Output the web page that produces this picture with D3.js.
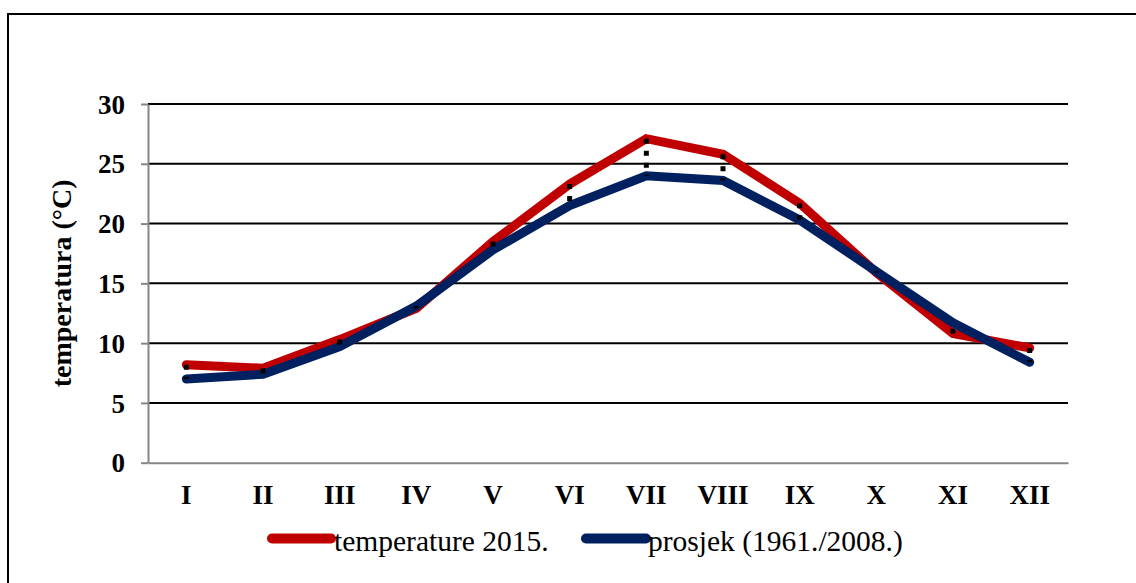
<!DOCTYPE html>
<html>
<head>
<meta charset="utf-8">
<script src="https://cdn.jsdelivr.net/npm/d3@7"></script>
<style>
  html, body { margin: 0; padding: 0; background: #fff; }
  svg { display: block; }
</style>
</head>
<body>
<svg id="chart" width="1136" height="583"></svg>
<script>
// Monthly mean air temperature: 2015 vs. long-term average
const months = ["I", "II", "III", "IV", "V", "VI", "VII", "VIII", "IX", "X", "XI", "XII"];
const temp2015 = [8.2, 7.9, 10.3, 12.9, 18.5, 23.3, 27.1, 25.8, 21.7, 15.9, 10.8, 9.6];
const average = [7.0, 7.4, 9.7, 13.1, 17.8, 21.5, 24.0, 23.6, 20.3, 16.0, 11.7, 8.4];
const yTicks = [0, 5, 10, 15, 20, 25, 30];
const seriesNames = ["temperature 2015.", "prosjek (1961./2008.)"];
const seriesColors = ["#C00000", "#002060"];

const FONT = "'Liberation Serif', 'Times New Roman', Times, serif";

const svg = d3.select("#chart");

// outer frame
svg.append("rect")
  .attr("x", 8).attr("y", 14)
  .attr("width", 1200).attr("height", 700)
  .attr("fill", "none").attr("stroke", "#000").attr("stroke-width", 2);

const plot = { left: 148, right: 1068, top: 104, bottom: 462.7 };

const x = d3.scaleBand().domain(months).range([plot.left, plot.right]);
const y = d3.scaleLinear().domain([0, 30]).range([plot.bottom, plot.top]);
const cx = m => x(m) + x.bandwidth() / 2;

// horizontal gridlines
svg.append("g")
  .selectAll("line")
  .data(yTicks.filter(v => v > 0))
  .join("line")
  .attr("x1", plot.left).attr("x2", plot.right)
  .attr("y1", d => y(d)).attr("y2", d => y(d))
  .attr("stroke", "#000").attr("stroke-width", 2);

// y axis with tick labels
const yAxis = svg.append("g")
  .attr("transform", `translate(${plot.left},0)`)
  .call(d3.axisLeft(y).tickValues(yTicks).tickSize(7).tickSizeOuter(0).tickPadding(16));
yAxis.select(".domain").attr("stroke", "#868686").attr("stroke-width", 2);
yAxis.selectAll(".tick line").attr("stroke", "#868686").attr("stroke-width", 2);
yAxis.selectAll(".tick text")
  .style("font-family", FONT)
  .style("font-size", "27px").style("font-weight", "bold").attr("fill", "#000")
  .attr("dy", "0.34em");

// x axis (baseline and month labels)
const xAxis = svg.append("g")
  .attr("transform", `translate(0,${plot.bottom})`)
  .call(d3.axisBottom(x).tickSize(0).tickPadding(22));
xAxis.select(".domain").attr("stroke", "#868686").attr("stroke-width", 2);
xAxis.selectAll(".tick text")
  .style("font-family", FONT)
  .style("font-size", "27px").style("font-weight", "bold").attr("fill", "#000");

// y axis title
svg.append("text")
  .attr("transform", `translate(71,${(plot.top + plot.bottom) / 2}) rotate(-90)`)
  .attr("text-anchor", "middle")
  .style("font-family", FONT)
  .style("font-size", "28px").style("font-weight", "bold")
  .text("temperatura (°C)");

// series lines
const line = d3.line().x((d, i) => cx(months[i])).y(d => y(d));
[temp2015, average].forEach((vals, k) => {
  svg.append("path")
    .datum(vals)
    .attr("d", line)
    .attr("fill", "none")
    .attr("stroke", seriesColors[k])
    .attr("stroke-width", 9)
    .attr("stroke-linecap", "round")
    .attr("stroke-linejoin", "miter");
});

// high-low connectors between the two series
svg.append("g")
  .selectAll("line")
  .data(months)
  .join("line")
  .attr("x1", d => cx(d)).attr("x2", d => cx(d))
  .attr("y1", (d, i) => y(temp2015[i]))
  .attr("y2", (d, i) => y(average[i]))
  .attr("stroke", "#000").attr("stroke-width", 5)
  .attr("stroke-dasharray", "5,7");

// legend
const legend = [
  { x0: 272, x1: 331, tx: 334 },
  { x0: 586, x1: 646, tx: 648 }
];
legend.forEach((L, k) => {
  svg.append("line")
    .attr("x1", L.x0).attr("x2", L.x1)
    .attr("y1", 538.5).attr("y2", 538.5)
    .attr("stroke", seriesColors[k]).attr("stroke-width", 10)
    .attr("stroke-linecap", "round");
  svg.append("text")
    .attr("x", L.tx).attr("y", 550.5)
    .style("font-family", FONT)
    .style("font-size", "29.5px")
    .text(seriesNames[k]);
});
</script>
</body>
</html>
